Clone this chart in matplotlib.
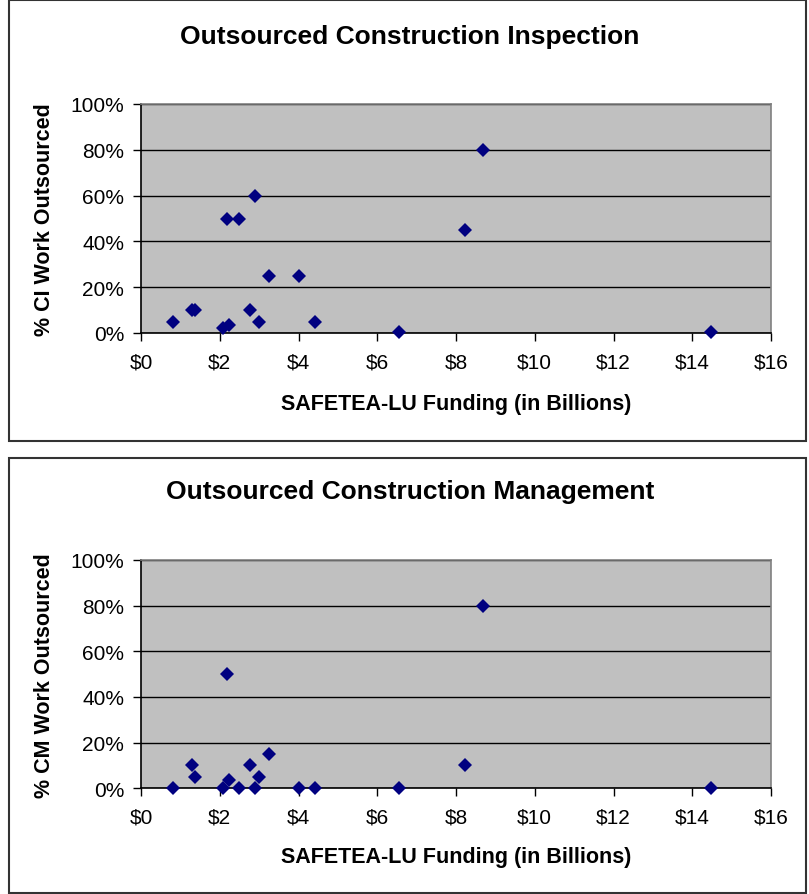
import matplotlib
matplotlib.use("Agg")
import matplotlib.pyplot as plt
from matplotlib.patches import Rectangle
from matplotlib.ticker import FuncFormatter, MultipleLocator

plt.rcParams['font.family'] = ['Liberation Sans', 'DejaVu Sans']

# Data (SAFETEA-LU funding in $ billions, % work outsourced)
funding = [0.82, 1.29, 1.37, 2.07, 2.18, 2.23, 2.48, 2.78, 2.90, 2.99,
           3.25, 4.01, 4.43, 6.54, 8.23, 8.69, 14.48]
ci_pct = [5, 10, 10, 2, 50, 3.5, 50, 10, 60, 5, 25, 25, 5, 0.5, 45, 80, 0.5]
cm_pct = [0, 10, 5, 0, 50, 3.5, 0, 10, 0, 5, 15, 0, 0, 0, 10, 80, 0]

titles = ["Outsourced Construction Inspection", "Outsourced Construction Management"]
ylabels = ["% CI Work Outsourced", "% CM Work Outsourced"]
xlabel = "SAFETEA-LU Funding (in Billions)"

W, H = 809, 895
fig = plt.figure(figsize=(W / 100, H / 100), dpi=100)
fig.patch.set_facecolor("white")

def fx(px):
    return px / W

def fy(py):
    return 1 - py / H

# layout in pixels: (box_top, box_bottom, plot_top, plot_bottom, title_y, xlabel_y)
layouts = [
    (1, 442, 105, 334, 37, 405),
    (459, 894, 561, 789.3, 492, 858),
]
series = [ci_pct, cm_pct]

for i, (btop, bbot, ptop, pbot, ty, xly) in enumerate(layouts):
    fig.patches.append(Rectangle((fx(9), fy(bbot)), fx(806) - fx(9), fy(btop) - fy(bbot),
                                 transform=fig.transFigure, fill=False,
                                 edgecolor="#333333", linewidth=1.5, zorder=0))
    ax = fig.add_axes([fx(141), fy(pbot), fx(771) - fx(141), fy(ptop) - fy(pbot)])
    ax.set_facecolor("#C0C0C0")
    ax.plot(funding, series[i], linestyle="none", marker="D", markersize=7.2,
            color="#000080", markeredgewidth=0, clip_on=False, zorder=5)
    ax.set_xlim(0, 16)
    ax.set_ylim(0, 100)
    ax.xaxis.set_major_locator(MultipleLocator(2))
    ax.yaxis.set_major_locator(MultipleLocator(20))
    ax.xaxis.set_major_formatter(FuncFormatter(lambda v, p: f"${v:.0f}"))
    ax.yaxis.set_major_formatter(FuncFormatter(lambda v, p: f"{v:.0f}%"))
    ax.grid(True, axis="y", color="black", linewidth=1.0)
    ax.set_axisbelow(True)
    for s in ["left", "bottom"]:
        ax.spines[s].set_color("black")
        ax.spines[s].set_linewidth(1.2)
    for s in ["top", "right"]:
        ax.spines[s].set_color("#808080")
        ax.spines[s].set_linewidth(1.2)
    ax.tick_params(axis="both", direction="out", length=6, width=1, colors="black",
                   labelsize=15)
    ax.tick_params(axis="x", pad=8)
    ax.tick_params(axis="y", pad=6)
    fig.text(fx(410), fy(ty), titles[i], ha="center", va="center",
             fontsize=19, fontweight="bold")
    fig.text(fx(456), fy(xly), xlabel, ha="center", va="center",
             fontsize=15.5, fontweight="bold")
    fig.text(fx(45), fy((ptop + pbot) / 2), ylabels[i], ha="center", va="center",
             rotation=90, fontsize=15.5, fontweight="bold")

fig.savefig("out.png", dpi=100)
